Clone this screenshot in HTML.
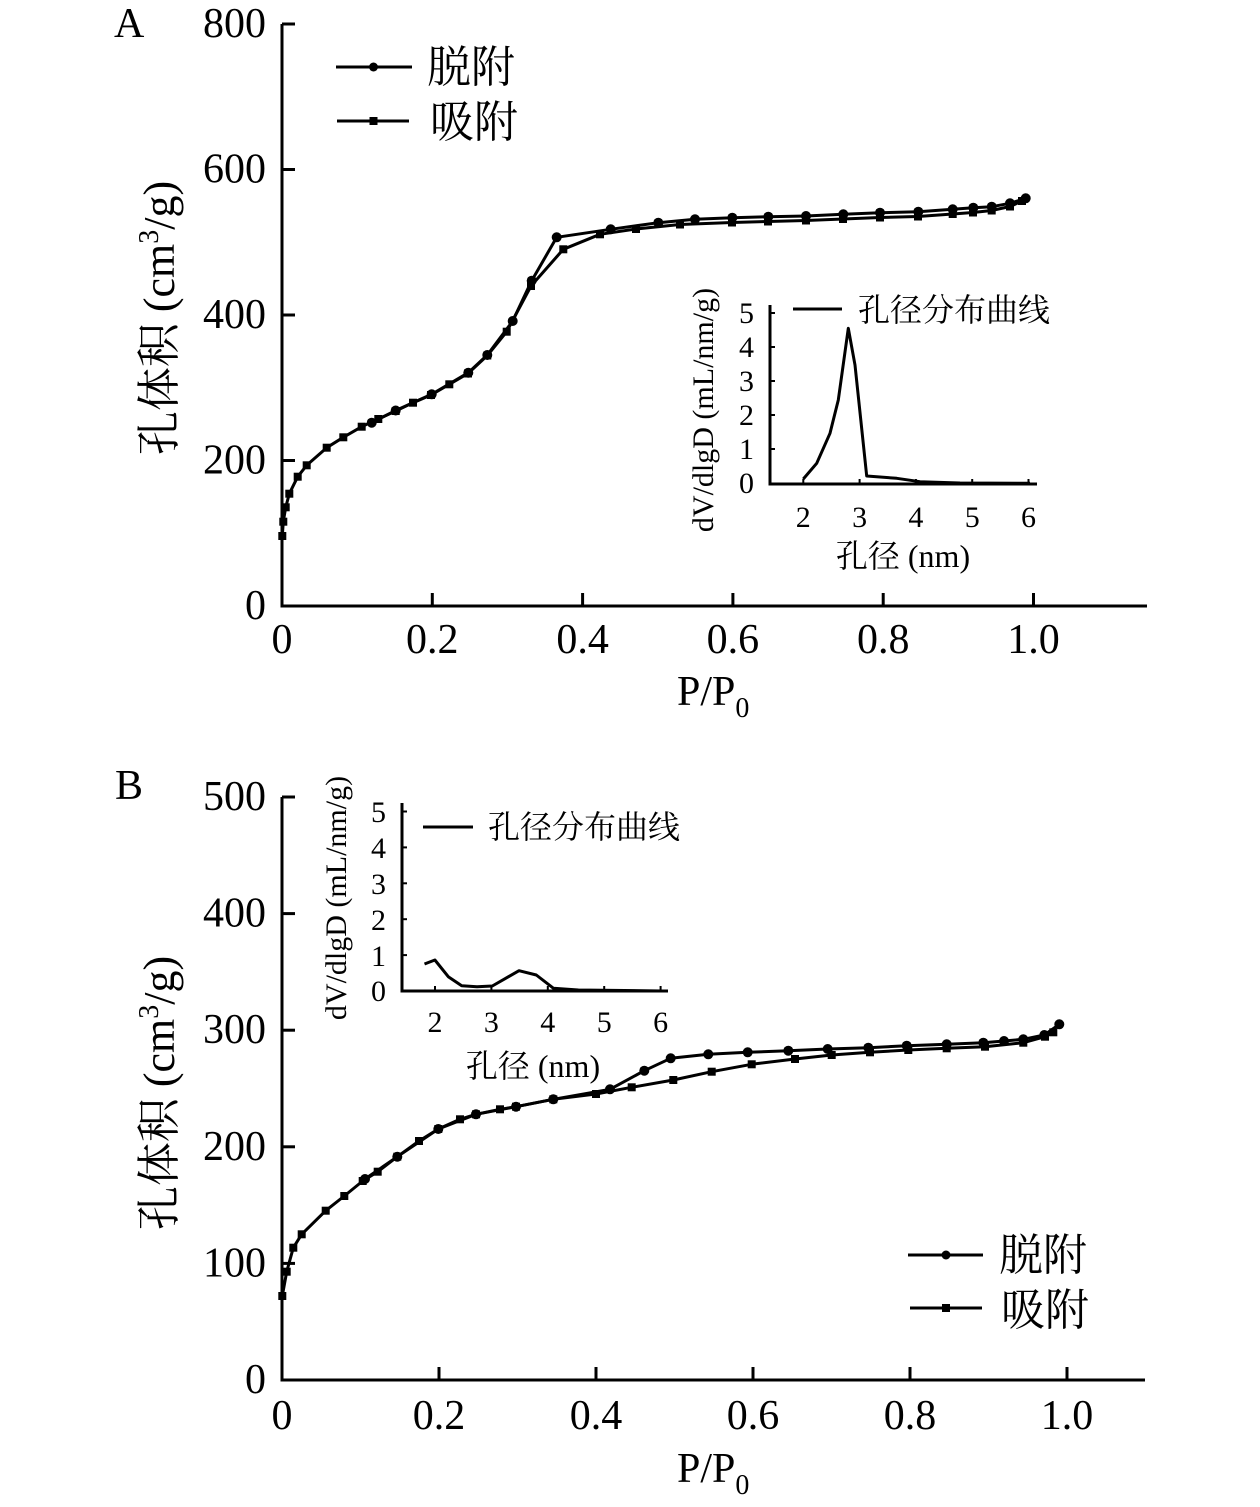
<!DOCTYPE html>
<html><head><meta charset="utf-8">
<style>
html,body{margin:0;padding:0;background:#fff;}
svg{display:block;}
text{font-family:"Liberation Serif","Noto Serif CJK SC",serif;fill:#000;}
</style></head>
<body>
<svg width="1260" height="1507" viewBox="0 0 1260 1507" xmlns="http://www.w3.org/2000/svg">
<rect width="1260" height="1507" fill="#fff"/>

<!-- ================= CHART A ================= -->
<text x="114" y="37" font-size="42">A</text>
<g stroke="#000" stroke-width="3" fill="none">
  <polyline points="282,24 282,606 1147,606"/>
  <!-- y ticks -->
  <line x1="282" y1="24" x2="295" y2="24"/>
  <line x1="282" y1="169.5" x2="295" y2="169.5"/>
  <line x1="282" y1="315" x2="295" y2="315"/>
  <line x1="282" y1="460.5" x2="295" y2="460.5"/>
  <!-- x ticks -->
  <line x1="432.3" y1="606" x2="432.3" y2="593"/>
  <line x1="582.6" y1="606" x2="582.6" y2="593"/>
  <line x1="732.9" y1="606" x2="732.9" y2="593"/>
  <line x1="883.2" y1="606" x2="883.2" y2="593"/>
  <line x1="1033.5" y1="606" x2="1033.5" y2="593"/>
</g>
<g font-size="42" text-anchor="end">
  <text x="266" y="37">800</text>
  <text x="266" y="182.5">600</text>
  <text x="266" y="328">400</text>
  <text x="266" y="473.5">200</text>
  <text x="266" y="619">0</text>
</g>
<g font-size="42" text-anchor="middle">
  <text x="282" y="653">0</text>
  <text x="432.3" y="653">0.2</text>
  <text x="582.6" y="653">0.4</text>
  <text x="732.9" y="653">0.6</text>
  <text x="883.2" y="653">0.8</text>
  <text x="1033.5" y="653">1.0</text>
</g>
<text x="677" y="705" font-size="42">P/P<tspan font-size="28" dy="12">0</tspan></text>
<text transform="translate(174,318) rotate(-90)" text-anchor="middle" font-size="44">孔体积 (cm<tspan font-size="28" dy="-16">3</tspan><tspan dy="16">/g)</tspan></text>

<!-- legend A -->
<g stroke="#000" stroke-width="3">
  <line x1="336" y1="67" x2="412" y2="67"/>
  <line x1="337" y1="121" x2="409" y2="121"/>
</g>
<circle cx="373.5" cy="67" r="4.5" fill="#000"/>
<rect x="369.5" y="117" width="8" height="8" fill="#000"/>
<text x="427" y="82" font-size="44">脱附</text>
<text x="430" y="137" font-size="44">吸附</text>

<!-- adsorption A -->
<polyline fill="none" stroke="#000" stroke-width="3" stroke-linejoin="round" points="282.3,536 283.3,521.7 285.7,507.3 289.3,493.7 297.7,476.7 306.7,465.3 326.7,447.7 343.3,437.3 361.7,426.7 378.3,419 395.7,411 413,402.7 431,395 449.3,384.3 468,373.5 487.3,355.5 506.7,331.7 531,286 563.3,249.3 600,234.3 636,229 680,224.5 732,222.5 768,221.5 806,220.5 843,219 880,217.5 918,216.5 952.7,214 973,212.5 991.7,210.5 1010,206.5 1022,201"/>
<g fill="#000">
<rect x="278.3" y="532" width="8" height="8"/><rect x="279.3" y="517.7" width="8" height="8"/><rect x="281.7" y="503.3" width="8" height="8"/><rect x="285.3" y="489.7" width="8" height="8"/><rect x="293.7" y="472.7" width="8" height="8"/><rect x="302.7" y="461.3" width="8" height="8"/><rect x="322.7" y="443.7" width="8" height="8"/><rect x="339.3" y="433.3" width="8" height="8"/><rect x="357.7" y="422.7" width="8" height="8"/><rect x="374.3" y="415" width="8" height="8"/><rect x="391.7" y="407" width="8" height="8"/><rect x="409" y="398.7" width="8" height="8"/><rect x="427" y="391" width="8" height="8"/><rect x="445.3" y="380.3" width="8" height="8"/><rect x="464" y="369.5" width="8" height="8"/><rect x="483.3" y="351.5" width="8" height="8"/><rect x="502.7" y="327.7" width="8" height="8"/><rect x="527" y="282" width="8" height="8"/><rect x="559.3" y="245.3" width="8" height="8"/><rect x="596" y="230.3" width="8" height="8"/><rect x="632" y="225" width="8" height="8"/><rect x="676" y="220.5" width="8" height="8"/><rect x="728" y="218.5" width="8" height="8"/><rect x="764" y="217.5" width="8" height="8"/><rect x="802" y="216.5" width="8" height="8"/><rect x="839" y="215" width="8" height="8"/><rect x="876" y="213.5" width="8" height="8"/><rect x="914" y="212.5" width="8" height="8"/><rect x="948.7" y="210" width="8" height="8"/><rect x="969" y="208.5" width="8" height="8"/><rect x="987.7" y="206.5" width="8" height="8"/><rect x="1006" y="202.5" width="8" height="8"/><rect x="1018" y="197" width="8" height="8"/>
</g>
<!-- desorption A -->
<polyline fill="none" stroke="#000" stroke-width="3" stroke-linejoin="round" points="371.7,422.7 395.7,410.5 431.7,394.3 468.3,372.7 487.3,355 512.7,321 531.7,280.7 556.7,237.3 610.7,229.3 658.3,222.7 695,219.3 732.3,217.7 768.3,216.7 806,216 843.3,214.3 880,212.7 918.3,211.7 952.7,209.3 973.3,207.7 991.7,206.7 1010,203.3 1025.7,198.3"/>
<g fill="#000">
<circle cx="371.7" cy="422.7" r="5"/><circle cx="395.7" cy="410.5" r="5"/><circle cx="431.7" cy="394.3" r="5"/><circle cx="468.3" cy="372.7" r="5"/><circle cx="487.3" cy="355" r="5"/><circle cx="512.7" cy="321" r="5"/><circle cx="531.7" cy="280.7" r="5"/><circle cx="556.7" cy="237.3" r="5"/><circle cx="610.7" cy="229.3" r="5"/><circle cx="658.3" cy="222.7" r="5"/><circle cx="695" cy="219.3" r="5"/><circle cx="732.3" cy="217.7" r="5"/><circle cx="768.3" cy="216.7" r="5"/><circle cx="806" cy="216" r="5"/><circle cx="843.3" cy="214.3" r="5"/><circle cx="880" cy="212.7" r="5"/><circle cx="918.3" cy="211.7" r="5"/><circle cx="952.7" cy="209.3" r="5"/><circle cx="973.3" cy="207.7" r="5"/><circle cx="991.7" cy="206.7" r="5"/><circle cx="1010" cy="203.3" r="5"/><circle cx="1025.7" cy="198.3" r="5"/>
</g>

<!-- inset A -->
<g stroke="#000" stroke-width="3" fill="none">
  <polyline points="770,305 770,484 1037,484"/>
</g>
<g stroke="#000" stroke-width="2">
  <line x1="770" y1="313" x2="775" y2="313"/><line x1="770" y1="347" x2="775" y2="347"/><line x1="770" y1="381" x2="775" y2="381"/><line x1="770" y1="415" x2="775" y2="415"/><line x1="770" y1="449" x2="775" y2="449"/>
  <line x1="803.3" y1="484" x2="803.3" y2="479"/><line x1="859.6" y1="484" x2="859.6" y2="479"/><line x1="915.9" y1="484" x2="915.9" y2="479"/><line x1="972.2" y1="484" x2="972.2" y2="479"/><line x1="1028.5" y1="484" x2="1028.5" y2="479"/>
</g>
<g font-size="30" text-anchor="end">
  <text x="754" y="323">5</text><text x="754" y="357">4</text><text x="754" y="391">3</text><text x="754" y="425">2</text><text x="754" y="459">1</text><text x="754" y="493">0</text>
</g>
<g font-size="30" text-anchor="middle">
  <text x="803.3" y="527">2</text><text x="859.6" y="527">3</text><text x="915.9" y="527">4</text><text x="972.2" y="527">5</text><text x="1028.5" y="527">6</text>
</g>
<text x="903" y="567" font-size="32" text-anchor="middle">孔径 (nm)</text>
<text transform="translate(713,410) rotate(-90)" text-anchor="middle" font-size="30">dV/dlgD (mL/nm/g)</text>
<line x1="793" y1="309" x2="842" y2="309" stroke="#000" stroke-width="3"/>
<text x="858" y="321" font-size="32">孔径分布曲线</text>
<polyline fill="none" stroke="#000" stroke-width="3" stroke-linejoin="round" points="803.3,479 816.7,463.3 830,433.3 838.3,400 848.3,328.3 855,365 866.7,476 896.7,478.3 920,481.7 960,483 1030,483.3"/>

<!-- ================= CHART B ================= -->
<text x="115" y="799" font-size="42">B</text>
<g stroke="#000" stroke-width="3" fill="none">
  <polyline points="282,797 282,1380 1145,1380"/>
  <line x1="282" y1="797" x2="295" y2="797"/>
  <line x1="282" y1="913.6" x2="295" y2="913.6"/>
  <line x1="282" y1="1030.2" x2="295" y2="1030.2"/>
  <line x1="282" y1="1146.8" x2="295" y2="1146.8"/>
  <line x1="282" y1="1263.4" x2="295" y2="1263.4"/>
  <line x1="439" y1="1380" x2="439" y2="1367"/>
  <line x1="596" y1="1380" x2="596" y2="1367"/>
  <line x1="753" y1="1380" x2="753" y2="1367"/>
  <line x1="910" y1="1380" x2="910" y2="1367"/>
  <line x1="1067" y1="1380" x2="1067" y2="1367"/>
</g>
<g font-size="42" text-anchor="end">
  <text x="266" y="810">500</text>
  <text x="266" y="926.6">400</text>
  <text x="266" y="1043.2">300</text>
  <text x="266" y="1159.8">200</text>
  <text x="266" y="1276.4">100</text>
  <text x="266" y="1393">0</text>
</g>
<g font-size="42" text-anchor="middle">
  <text x="282" y="1429">0</text>
  <text x="439" y="1429">0.2</text>
  <text x="596" y="1429">0.4</text>
  <text x="753" y="1429">0.6</text>
  <text x="910" y="1429">0.8</text>
  <text x="1067" y="1429">1.0</text>
</g>
<text x="677" y="1482" font-size="42">P/P<tspan font-size="28" dy="12">0</tspan></text>
<text transform="translate(174,1093) rotate(-90)" text-anchor="middle" font-size="44">孔体积 (cm<tspan font-size="28" dy="-16">3</tspan><tspan dy="16">/g)</tspan></text>

<!-- legend B -->
<g stroke="#000" stroke-width="3">
  <line x1="908" y1="1255" x2="983" y2="1255"/>
  <line x1="910" y1="1308" x2="982" y2="1308"/>
</g>
<circle cx="946" cy="1255" r="4.5" fill="#000"/>
<rect x="942" y="1304" width="8" height="8" fill="#000"/>
<text x="999" y="1270" font-size="44">脱附</text>
<text x="1001" y="1325" font-size="44">吸附</text>

<!-- adsorption B -->
<polyline fill="none" stroke="#000" stroke-width="3" stroke-linejoin="round" points="282.3,1296 286.7,1271.7 293.3,1247.7 301.7,1234.3 325.7,1210.7 344.3,1196 362.7,1181 377.7,1171.7 397.3,1156.7 419,1141 438.3,1129 460,1119.3 476,1114.3 500,1109.3 516,1106.7 553.3,1099.3 596,1094 631.7,1087.3 673.3,1080 711.7,1071.7 751.7,1064.3 795,1059 831.7,1055 870,1052.3 908.3,1050 946.7,1048.3 985,1046.7 1023.3,1042.7 1045,1036.7 1053.3,1032.3"/>
<g fill="#000">
<rect x="278.3" y="1292" width="8" height="8"/><rect x="282.7" y="1267.7" width="8" height="8"/><rect x="289.3" y="1243.7" width="8" height="8"/><rect x="297.7" y="1230.3" width="8" height="8"/><rect x="321.7" y="1206.7" width="8" height="8"/><rect x="340.3" y="1192" width="8" height="8"/><rect x="358.7" y="1177" width="8" height="8"/><rect x="373.7" y="1167.7" width="8" height="8"/><rect x="393.3" y="1152.7" width="8" height="8"/><rect x="415" y="1137" width="8" height="8"/><rect x="434.3" y="1125" width="8" height="8"/><rect x="456" y="1115.3" width="8" height="8"/><rect x="472" y="1110.3" width="8" height="8"/><rect x="496" y="1105.3" width="8" height="8"/><rect x="512" y="1102.7" width="8" height="8"/><rect x="549.3" y="1095.3" width="8" height="8"/><rect x="592" y="1090" width="8" height="8"/><rect x="627.7" y="1083.3" width="8" height="8"/><rect x="669.3" y="1076" width="8" height="8"/><rect x="707.7" y="1067.7" width="8" height="8"/><rect x="747.7" y="1060.3" width="8" height="8"/><rect x="791" y="1055" width="8" height="8"/><rect x="827.7" y="1051" width="8" height="8"/><rect x="866" y="1048.3" width="8" height="8"/><rect x="904.3" y="1046" width="8" height="8"/><rect x="942.7" y="1044.3" width="8" height="8"/><rect x="981" y="1042.7" width="8" height="8"/><rect x="1019.3" y="1038.7" width="8" height="8"/><rect x="1041" y="1032.7" width="8" height="8"/><rect x="1049.3" y="1028.3" width="8" height="8"/>
</g>
<!-- desorption B -->
<polyline fill="none" stroke="#000" stroke-width="3" stroke-linejoin="round" points="365,1179 397.3,1156.7 438.3,1129 476,1114.3 516,1106.7 553.3,1099.3 610,1089.3 644.3,1070.7 670.7,1058.3 708.3,1054.3 747.7,1052.3 788.3,1050.7 827.7,1049 868.3,1047.7 906.7,1045.7 946.7,1044.3 983.3,1042.7 1004,1041 1023.3,1039.3 1044.3,1035 1059.3,1024.3"/>
<g fill="#000">
<circle cx="365" cy="1179" r="5"/><circle cx="397.3" cy="1156.7" r="5"/><circle cx="438.3" cy="1129" r="5"/><circle cx="476" cy="1114.3" r="5"/><circle cx="516" cy="1106.7" r="5"/><circle cx="553.3" cy="1099.3" r="5"/><circle cx="610" cy="1089.3" r="5"/><circle cx="644.3" cy="1070.7" r="5"/><circle cx="670.7" cy="1058.3" r="5"/><circle cx="708.3" cy="1054.3" r="5"/><circle cx="747.7" cy="1052.3" r="5"/><circle cx="788.3" cy="1050.7" r="5"/><circle cx="827.7" cy="1049" r="5"/><circle cx="868.3" cy="1047.7" r="5"/><circle cx="906.7" cy="1045.7" r="5"/><circle cx="946.7" cy="1044.3" r="5"/><circle cx="983.3" cy="1042.7" r="5"/><circle cx="1004" cy="1041" r="5"/><circle cx="1023.3" cy="1039.3" r="5"/><circle cx="1044.3" cy="1035" r="5"/><circle cx="1059.3" cy="1024.3" r="5"/>
</g>

<!-- inset B -->
<g stroke="#000" stroke-width="3" fill="none">
  <polyline points="402,803 402,991 668,991"/>
</g>
<g stroke="#000" stroke-width="2">
  <line x1="402" y1="811.5" x2="407" y2="811.5"/><line x1="402" y1="847.4" x2="407" y2="847.4"/><line x1="402" y1="883.3" x2="407" y2="883.3"/><line x1="402" y1="919.2" x2="407" y2="919.2"/><line x1="402" y1="955.1" x2="407" y2="955.1"/>
  <line x1="435" y1="991" x2="435" y2="986"/><line x1="491.4" y1="991" x2="491.4" y2="986"/><line x1="547.8" y1="991" x2="547.8" y2="986"/><line x1="604.2" y1="991" x2="604.2" y2="986"/><line x1="660.6" y1="991" x2="660.6" y2="986"/>
</g>
<g font-size="30" text-anchor="end">
  <text x="386" y="822">5</text><text x="386" y="858">4</text><text x="386" y="894">3</text><text x="386" y="930">2</text><text x="386" y="966">1</text><text x="386" y="1001">0</text>
</g>
<g font-size="30" text-anchor="middle">
  <text x="435" y="1032">2</text><text x="491.4" y="1032">3</text><text x="547.8" y="1032">4</text><text x="604.2" y="1032">5</text><text x="660.6" y="1032">6</text>
</g>
<text x="533" y="1077" font-size="32" text-anchor="middle">孔径 (nm)</text>
<text transform="translate(346,898) rotate(-90)" text-anchor="middle" font-size="30">dV/dlgD (mL/nm/g)</text>
<line x1="423" y1="827" x2="473" y2="827" stroke="#000" stroke-width="3"/>
<text x="488" y="838" font-size="32">孔径分布曲线</text>
<polyline fill="none" stroke="#000" stroke-width="3" stroke-linejoin="round" points="424.5,964 434.9,960 448.3,976.7 461.7,985.7 477,986.7 492.3,986 505.7,978.3 519,970.7 536.3,975 553.5,988.3 578.4,990 662.6,991"/>
</svg>
</body></html>
